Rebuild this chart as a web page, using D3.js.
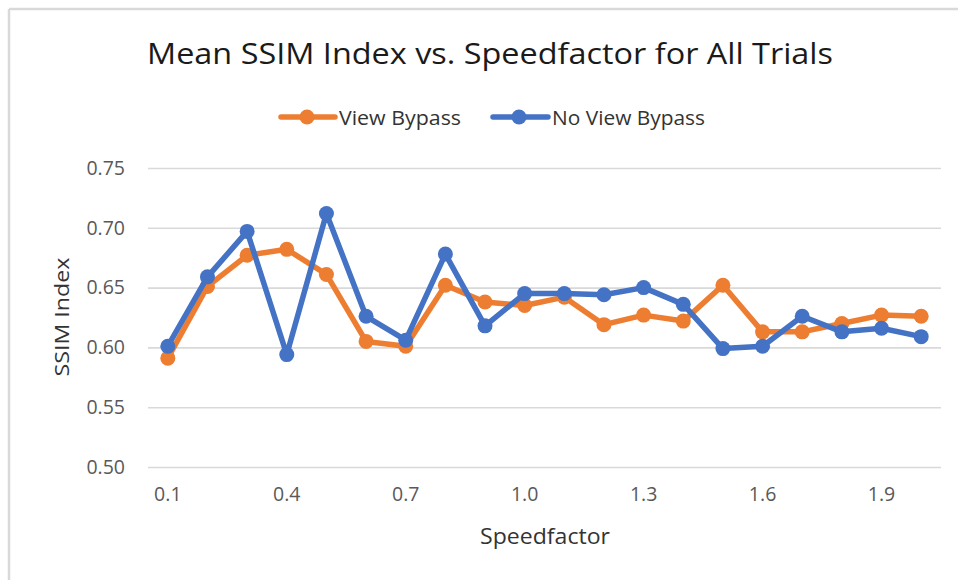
<!DOCTYPE html>
<html>
<head>
<meta charset="utf-8">
<script src="https://cdn.jsdelivr.net/npm/d3@7"></script>
<style>
  html, body { margin: 0; padding: 0; background: #fff; }
  svg { display: block; }
  text { font-family: "Open Sans", "DejaVu Sans", sans-serif; }
</style>
</head>
<body>
<svg id="chart" width="958" height="580"></svg>
<script>
const categories = ["0.1","0.2","0.3","0.4","0.5","0.6","0.7","0.8","0.9","1.0",
                    "1.1","1.2","1.3","1.4","1.5","1.6","1.7","1.8","1.9","2.0"];
const viewBypass   = [0.591,0.651,0.677,0.682,0.661,0.605,0.601,0.652,0.638,0.635,
                      0.642,0.619,0.627,0.622,0.652,0.613,0.613,0.620,0.627,0.626];
const noViewBypass = [0.601,0.659,0.697,0.594,0.712,0.626,0.606,0.678,0.618,0.645,
                      0.645,0.644,0.650,0.636,0.599,0.601,0.626,0.613,0.616,0.609];
const yTicks = [0.50,0.55,0.60,0.65,0.70,0.75];
const xTickLabels = ["0.1","0.4","0.7","1.0","1.3","1.6","1.9"];
const seriesNames = ["View Bypass","No View Bypass"];
const seriesColors = ["#ED7D31","#4472C4"];

const svg = d3.select("#chart");

// chart frame (cropped: only top and left edges visible)
svg.append("line").attr("x1",9).attr("x2",958).attr("y1",9).attr("y2",9)
  .attr("stroke","#d9d9d9").attr("stroke-width",2.5);
svg.append("line").attr("x1",9).attr("x2",9).attr("y1",9).attr("y2",580)
  .attr("stroke","#d9d9d9").attr("stroke-width",2.5);

const x = d3.scaleBand().domain(categories).range([148, 941]);
const y = d3.scaleLinear().domain([0.50, 0.75]).range([467, 168]);
const cx = d => x(d) + x.bandwidth()/2;

// gridlines
const yAxis = d3.axisLeft(y).tickValues(yTicks).tickFormat(d3.format(".2f"))
  .tickSize(-(941-148)).tickPadding(23);
const gy = svg.append("g").attr("transform","translate(148,0)").call(yAxis);
gy.select(".domain").remove();
gy.selectAll(".tick line").attr("stroke","#d9d9d9").attr("stroke-width",1.6);
gy.selectAll(".tick text").attr("fill","#595959").style("font-size","19.5px")
  .style("font-family","'Open Sans', sans-serif");

// x axis labels
const xAxis = d3.axisBottom(x).tickValues(xTickLabels).tickSize(0).tickPadding(20);
const gx = svg.append("g").attr("transform","translate(0,467)").call(xAxis);
gx.select(".domain").remove();
gx.selectAll(".tick text").attr("fill","#595959").style("font-size","19.5px")
  .style("font-family","'Open Sans', sans-serif");

// lines
const line = d3.line().x((d,i)=>cx(categories[i])).y(d=>y(d));
[viewBypass, noViewBypass].forEach((vals, s) => {
  svg.append("path").datum(vals).attr("d", line).attr("fill","none")
    .attr("stroke", seriesColors[s]).attr("stroke-width",5.5)
    .attr("stroke-linejoin","round").attr("stroke-linecap","round");
  svg.append("g").selectAll("circle").data(vals).join("circle")
    .attr("cx",(d,i)=>cx(categories[i])).attr("cy",d=>y(d)).attr("r",7.5)
    .attr("fill", seriesColors[s]);
});

// title
svg.append("text").attr("x",490).attr("y",64).attr("text-anchor","middle")
  .attr("textLength",686).attr("lengthAdjust","spacingAndGlyphs")
  .style("font-size","30px").attr("fill","#1a1a1a")
  .text("Mean SSIM Index vs. Speedfactor for All Trials");

// legend
const legend = [
  {x1:281, x2:335, mx:307, tx:339, tw:122},
  {x1:493, x2:548, mx:519, tx:552, tw:153}
];
legend.forEach((L, s) => {
  svg.append("line").attr("x1",L.x1).attr("x2",L.x2).attr("y1",117).attr("y2",117)
    .attr("stroke",seriesColors[s]).attr("stroke-width",5.5).attr("stroke-linecap","round");
  svg.append("circle").attr("cx",L.mx).attr("cy",117).attr("r",7.5).attr("fill",seriesColors[s]);
  svg.append("text").attr("x",L.tx).attr("y",124.5)
    .attr("textLength",L.tw).attr("lengthAdjust","spacingAndGlyphs")
    .style("font-size","20px").attr("fill","#333")
    .text(seriesNames[s]);
});

// axis titles
svg.append("text").attr("x",545).attr("y",544).attr("text-anchor","middle")
  .attr("textLength",130).attr("lengthAdjust","spacingAndGlyphs")
  .style("font-size","21px").attr("fill","#333").text("Speedfactor");
svg.append("text").attr("transform","translate(69,317) rotate(-90)")
  .attr("text-anchor","middle")
  .attr("textLength",119).attr("lengthAdjust","spacingAndGlyphs")
  .style("font-size","20px").attr("fill","#333").text("SSIM Index");
</script>
</body>
</html>
